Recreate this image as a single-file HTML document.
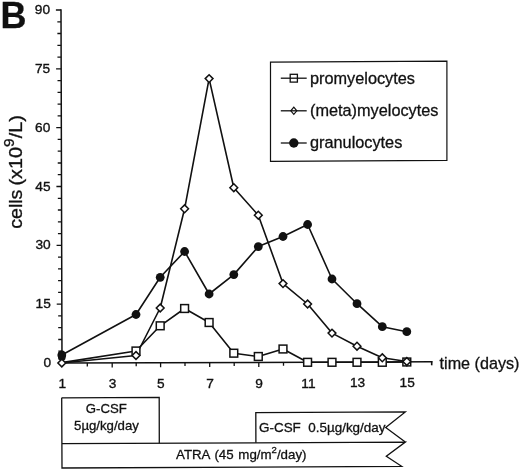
<!DOCTYPE html>
<html><head><meta charset="utf-8"><title>B</title>
<style>
html,body{margin:0;padding:0;background:#fff;}
body{width:520px;height:470px;overflow:hidden;}
svg{display:block;font-family:"Liberation Sans",Arial,sans-serif;fill:#111;}
text{stroke:#111;stroke-width:0.3;}
.ln{fill:none;stroke:#111;stroke-width:1.6;stroke-linejoin:round;}
.ax{fill:none;stroke:#111;stroke-width:1.5;}
.tk{fill:none;stroke:#111;stroke-width:1.3;}
.bx{fill:none;stroke:#111;stroke-width:1.1;}
.bx2{fill:none;stroke:#111;stroke-width:1.3;stroke-linejoin:miter;}
.mk{fill:#fff;stroke:#111;stroke-width:1.5;}
.dot{fill:#111;stroke:none;}
.t14{font-size:13.7px;stroke-width:0.35;}
</style></head><body>
<svg width="520" height="470" viewBox="0 0 520 470">
<rect x="0" y="0" width="520" height="470" fill="#fff"/>

<text x="0.45" y="27.7" font-size="36" font-weight="bold">B</text>
<path class="ax" d="M61.00 9.3L62.00 363.1L432.4 361.80"/>
<path class="tk" d="M58.27 351.2H61.97M58.23 339.5H61.93M58.20 327.7H61.90M58.17 315.9H61.87M56.73 304.2H61.83M58.10 292.4H61.80M58.07 280.6H61.77M58.03 268.9H61.73M58.00 257.1H61.70M56.57 245.3H61.67M57.93 233.6H61.63M57.90 221.8H61.60M57.87 210.0H61.57M57.83 198.3H61.53M56.40 186.5H61.50M57.77 174.7H61.47M57.73 163.0H61.43M57.70 151.2H61.40M57.67 139.4H61.37M56.23 127.7H61.33M57.60 115.9H61.30M57.57 104.1H61.27M57.53 92.4H61.23M57.50 80.6H61.20M56.07 68.8H61.17M57.43 57.1H61.13M57.40 45.3H61.10M57.37 33.5H61.07M57.33 21.8H61.03M55.90 10.0H61.00"/>
<path class="tk" d="M87.3 363.01V366.41M112.2 362.92V367.42M136.2 362.84V366.24M160.6 362.75V367.25M185.0 362.67V366.07M209.7 362.58V367.08M234.2 362.50V365.90M258.8 362.41V366.91M283.5 362.32V365.72M308.1 362.24V366.74M332.6 362.15V365.55M357.3 362.07V366.57M382.3 361.98V365.38M406.9 361.89V366.39"/>
<path class="tk" style="stroke-width:1.6" d="M431.7 361.11V365.3"/>
<text class="t14" x="51.00" y="367.0" text-anchor="end">0</text>
<text class="t14" x="50.83" y="308.2" text-anchor="end">15</text>
<text class="t14" x="50.67" y="249.3" text-anchor="end">30</text>
<text class="t14" x="50.50" y="190.5" text-anchor="end">45</text>
<text class="t14" x="50.33" y="131.7" text-anchor="end">60</text>
<text class="t14" x="50.17" y="72.8" text-anchor="end">75</text>
<text class="t14" x="50.00" y="14.0" text-anchor="end">90</text>
<text class="t14" x="62.2" y="388.40" text-anchor="middle">1</text>
<text class="t14" x="112.5" y="388.23" text-anchor="middle">3</text>
<text class="t14" x="160.9" y="388.07" text-anchor="middle">5</text>
<text class="t14" x="210.0" y="387.91" text-anchor="middle">7</text>
<text class="t14" x="259.1" y="387.75" text-anchor="middle">9</text>
<text class="t14" x="308.4" y="387.59" text-anchor="middle">11</text>
<text class="t14" x="357.6" y="387.43" text-anchor="middle">13</text>
<text class="t14" x="407.2" y="387.26" text-anchor="middle">15</text>
<text transform="translate(22,228.8) rotate(-90) scale(1.09,1)" font-size="18">cells</text>
<text transform="translate(22,185.6) rotate(-90) scale(1.105,1)" font-size="18">(x10<tspan font-size="14" dy="-8.5">9</tspan><tspan dy="8.5">/L)</tspan></text>
<text x="439.6" y="369" font-size="16.15">time (days)</text>
<polyline class="ln" points="61.8,362.6 136.0,351.0 160.2,325.8 184.6,308.5 209.1,322.5 233.8,353.2 258.3,356.5 283.0,349.0 307.6,362.3 332.0,362.3 357.0,362.3 382.3,362.3 406.8,362.0"/>
<polyline class="ln" points="61.8,355.0 136.0,314.5 160.2,277.3 184.6,251.5 209.1,294.0 233.8,274.6 258.3,246.6 283.0,236.5 307.6,224.5 332.0,279.0 357.0,303.7 382.3,326.7 406.8,331.7"/>
<polyline class="ln" points="61.8,363.0 136.0,355.5 160.2,308.0 184.6,208.8 209.1,78.6 233.8,187.7 258.3,215.2 283.0,283.6 307.6,304.0 332.0,333.1 357.0,346.2 382.3,357.8 406.8,361.5"/>
<circle class="dot" cx="61.8" cy="355.0" r="4.4"/>
<circle class="dot" cx="136.0" cy="314.5" r="4.4"/>
<circle class="dot" cx="160.2" cy="277.3" r="4.4"/>
<circle class="dot" cx="184.6" cy="251.5" r="4.4"/>
<circle class="dot" cx="209.1" cy="294.0" r="4.4"/>
<circle class="dot" cx="233.8" cy="274.6" r="4.4"/>
<circle class="dot" cx="258.3" cy="246.6" r="4.4"/>
<circle class="dot" cx="283.0" cy="236.5" r="4.4"/>
<circle class="dot" cx="307.6" cy="224.5" r="4.4"/>
<circle class="dot" cx="332.0" cy="279.0" r="4.4"/>
<circle class="dot" cx="357.0" cy="303.7" r="4.4"/>
<circle class="dot" cx="382.3" cy="326.7" r="4.4"/>
<circle class="dot" cx="406.8" cy="331.7" r="4.4"/>
<rect class="dot" x="58" y="351.4" width="7.6" height="8.8" rx="2.2"/>
<rect class="mk" x="132.1" y="347.1" width="7.8" height="7.8"/>
<rect class="mk" x="156.3" y="321.9" width="7.8" height="7.8"/>
<rect class="mk" x="180.7" y="304.6" width="7.8" height="7.8"/>
<rect class="mk" x="205.2" y="318.6" width="7.8" height="7.8"/>
<rect class="mk" x="229.9" y="349.3" width="7.8" height="7.8"/>
<rect class="mk" x="254.4" y="352.6" width="7.8" height="7.8"/>
<rect class="mk" x="279.1" y="345.1" width="7.8" height="7.8"/>
<rect class="mk" x="303.7" y="358.4" width="7.8" height="7.8"/>
<rect class="mk" x="328.1" y="358.4" width="7.8" height="7.8"/>
<rect class="mk" x="353.1" y="358.4" width="7.8" height="7.8"/>
<rect class="mk" x="378.4" y="358.4" width="7.8" height="7.8"/>
<rect class="mk" x="402.9" y="358.1" width="7.8" height="7.8"/>
<path class="mk" d="M61.8 359.1L65.7 363.0L61.8 366.9L57.9 363.0Z"/>
<path class="mk" d="M136.0 351.6L139.9 355.5L136.0 359.4L132.1 355.5Z"/>
<path class="mk" d="M160.2 304.1L164.1 308.0L160.2 311.9L156.3 308.0Z"/>
<path class="mk" d="M184.6 204.9L188.5 208.8L184.6 212.7L180.7 208.8Z"/>
<path class="mk" d="M209.1 74.7L213.0 78.6L209.1 82.5L205.2 78.6Z"/>
<path class="mk" d="M233.8 183.8L237.7 187.7L233.8 191.6L229.9 187.7Z"/>
<path class="mk" d="M258.3 211.3L262.2 215.2L258.3 219.1L254.4 215.2Z"/>
<path class="mk" d="M283.0 279.7L286.9 283.6L283.0 287.5L279.1 283.6Z"/>
<path class="mk" d="M307.6 300.1L311.5 304.0L307.6 307.9L303.7 304.0Z"/>
<path class="mk" d="M332.0 329.2L335.9 333.1L332.0 337.0L328.1 333.1Z"/>
<path class="mk" d="M357.0 342.3L360.9 346.2L357.0 350.1L353.1 346.2Z"/>
<path class="mk" d="M382.3 353.9L386.2 357.8L382.3 361.7L378.4 357.8Z"/>
<path class="mk" d="M406.8 357.6L410.7 361.5L406.8 365.4L402.9 361.5Z"/>
<path class="bx" style="stroke-width:1.2" d="M270.5 62.1L446.9 61.1L446.9 160.3L270.5 161.4Z"/>
<rect class="mk" x="290.2" y="74.3" width="7.2" height="7.8" style="stroke-width:1.3"/>
<path class="tk" d="M280.8 78.2H306.7"/>
<text x="310" y="83.6" font-size="16.3">promyelocytes</text>
<path class="mk" style="stroke-width:1.2" d="M293.8 107.2L296.8 110.8L293.8 114.4L290.8 110.8Z"/>
<path class="tk" d="M280.8 110.8H306.7"/>
<text x="310" y="116.2" font-size="16.3">(meta)myelocytes</text>
<path class="tk" d="M280.8 143.0H306.7"/>
<circle class="dot" cx="293.8" cy="143.0" r="4.7"/>
<text x="310" y="148.4" font-size="16.3">granulocytes</text>
<path class="bx2" d="M61.7 397.8L159.2 397.4L159.3 443.2"/>
<path class="bx2" d="M61.7 397.8L62 468L401.6 466.3L386.3 456.3L405.3 442.1L61.9 443.7"/>
<path class="bx2" d="M255.9 442.8L255.8 412.6L405.3 411.9L385.7 427.5L405.3 442.1"/>
<text x="106.3" y="412.8" font-size="13.2" text-anchor="middle">G-CSF</text>
<text x="106.5" y="430" font-size="13.2" text-anchor="middle">5µg/kg/day</text>
<text x="259" y="432.1" font-size="13.45" xml:space="preserve">G-CSF  0.5µg/kg/day</text>
<text x="176" y="458.5" font-size="13.3" word-spacing="1">ATRA (45 mg/m<tspan font-size="9.5" dy="-5.5">2</tspan><tspan dy="5.5">/day)</tspan></text>
</svg></body></html>
